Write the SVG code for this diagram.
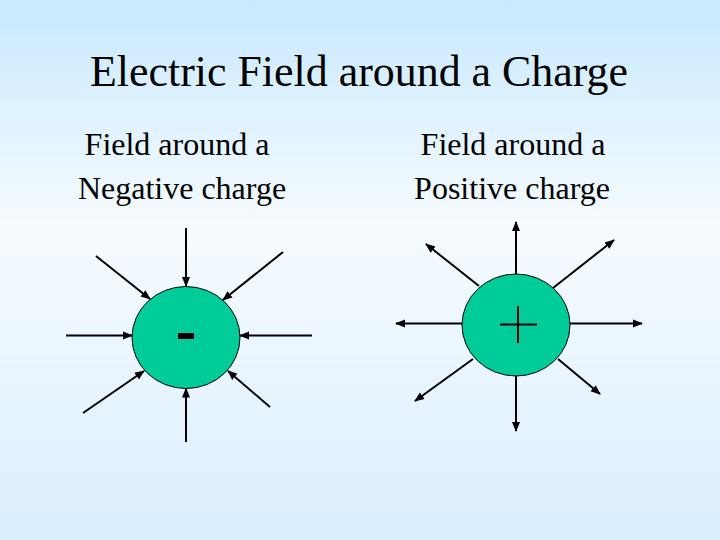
<svg xmlns="http://www.w3.org/2000/svg" width="720" height="540" viewBox="0 0 720 540">
  <defs>
    <linearGradient id="bg" x1="0" y1="0" x2="0" y2="1">
      <stop offset="0" stop-color="#C8E9FF"/>
      <stop offset="0.42" stop-color="#F6FBFF"/>
      <stop offset="1" stop-color="#DAEEFD"/>
    </linearGradient>
    <marker id="ah" viewBox="0 0 10 10" refX="9" refY="5" markerWidth="10" markerHeight="10" markerUnits="userSpaceOnUse" orient="auto">
      <path d="M0,1 L10,5 L0,9 Z" fill="#000"/>
    </marker>
    <style>
      text { font-family: "Liberation Serif", "Times New Roman", serif; fill: #000; }
      .title { font-size: 44px; }
      .sub { font-size: 32px; }
      .fl { stroke: #000; stroke-width: 2; fill: none; marker-end: url(#ah); }
      .charge { fill: #00CC99; stroke: #000; stroke-width: 1; }
    </style>
  </defs>
  <rect x="0" y="0" width="720" height="540" fill="url(#bg)"/>

  <g id="title">
    <text class="title" x="359" y="86" text-anchor="middle" textLength="538" lengthAdjust="spacingAndGlyphs">Electric Field around a Charge</text>
  </g>
  <g id="label-negative">
    <text class="sub" x="177" y="155" text-anchor="middle">Field around a</text>
    <text class="sub" x="182" y="199" text-anchor="middle">Negative charge</text>
  </g>
  <g id="label-positive">
    <text class="sub" x="513" y="155" text-anchor="middle">Field around a</text>
    <text class="sub" x="512" y="199" text-anchor="middle">Positive charge</text>
  </g>

  <g id="negative-charge">
    <ellipse class="charge" cx="186" cy="337.5" rx="54" ry="51"/>
    <rect x="178" y="333" width="16" height="6" fill="#000"/>
  </g>
  <g id="positive-charge">
    <ellipse class="charge" cx="516" cy="325" rx="54" ry="51"/>
    <path d="M500,324.5 H537 M518,306 V343" stroke="#000" stroke-width="2" fill="none"/>
  </g>

  <g id="connectors">
    <!-- negative: inward -->
    <line class="fl" x1="186" y1="228" x2="186" y2="286"/>
    <line class="fl" x1="96" y1="256" x2="150" y2="299"/>
    <line class="fl" x1="283" y1="252" x2="223" y2="300"/>
    <line class="fl" x1="66" y1="335.5" x2="132" y2="335.5"/>
    <line class="fl" x1="312" y1="335.5" x2="240" y2="335.5"/>
    <line class="fl" x1="83" y1="413" x2="144" y2="371"/>
    <line class="fl" x1="270" y1="407" x2="228" y2="371"/>
    <line class="fl" x1="186" y1="442" x2="186" y2="388.5"/>
    <!-- positive: outward -->
    <line class="fl" x1="516" y1="274" x2="516" y2="222"/>
    <line class="fl" x1="479" y1="286" x2="426" y2="244"/>
    <line class="fl" x1="553" y1="288" x2="614" y2="240"/>
    <line class="fl" x1="462" y1="323.5" x2="396" y2="323.5"/>
    <line class="fl" x1="570" y1="323.5" x2="642" y2="323.5"/>
    <line class="fl" x1="473" y1="359" x2="415" y2="401"/>
    <line class="fl" x1="558" y1="359" x2="600" y2="394"/>
    <line class="fl" x1="516" y1="376" x2="516" y2="431"/>
  </g>
</svg>
